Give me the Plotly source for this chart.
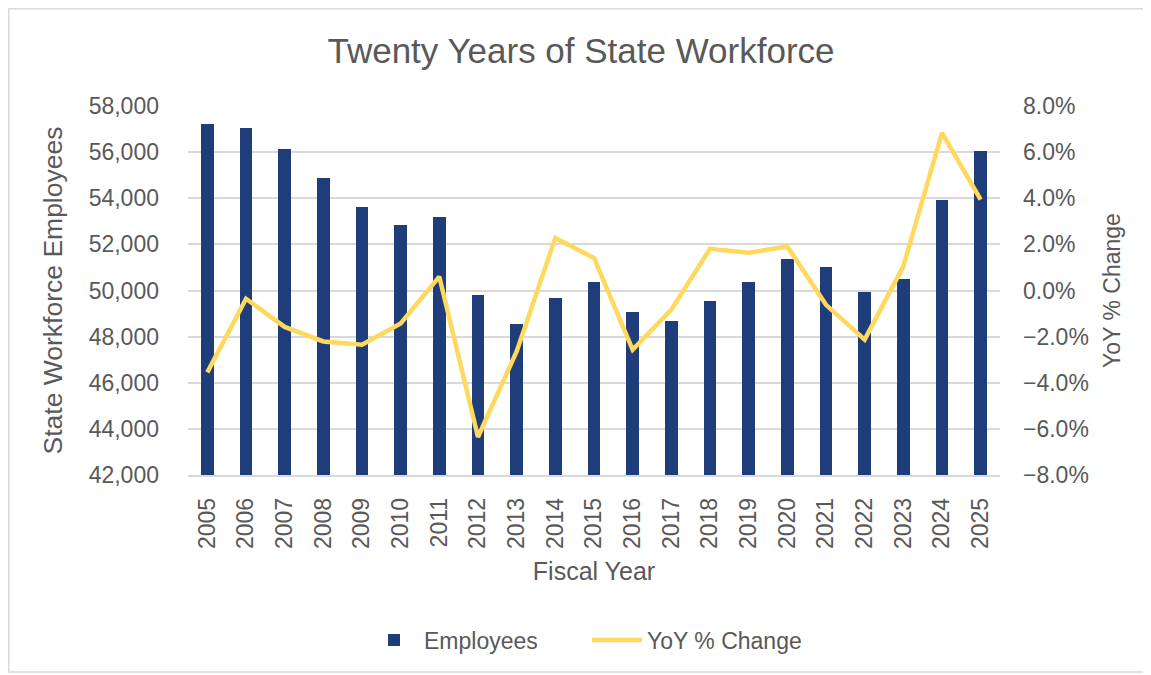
import plotly.graph_objects as go

years = [str(y) for y in range(2005, 2026)]
employees = [57230, 57030, 56120, 54880, 53600, 52850, 53170, 49800, 48530, 49660,
             50350, 49080, 48680, 49540, 50370, 51350, 51020, 49950, 50500, 53940, 56060]
yoy_pct = [-3.55, -0.36, -1.58, -2.21, -2.35, -1.43, 0.60, -6.35, -2.64, 2.28,
           1.41, -2.57, -0.83, 1.81, 1.64, 1.91, -0.62, -2.13, 1.05, 6.83, 3.94]
yoy = [v / 100 for v in yoy_pct]

FONT = "Liberation Sans, Arial, sans-serif"
GRAY = "#595959"
GRID = "#d9d9d9"

W, H = 1135, 667
L, T, PW, PH = 180, 98, 812, 369

fig = go.Figure()
fig.add_trace(go.Bar(x=years, y=employees, name="Employees",
                     marker=dict(color="#1F3D7B", line=dict(width=0)),
                     width=0.32, yaxis="y"))
fig.add_trace(go.Scatter(x=years, y=yoy, name="YoY % Change", mode="lines",
                         line=dict(color="#FFD85E", width=4.5), yaxis="y2"))

fig.update_layout(
    width=W, height=H,
    margin=dict(l=L, r=W - L - PW, t=T, b=H - T - PH, autoexpand=False),
    paper_bgcolor="white", plot_bgcolor="white",
    font=dict(family=FONT, color=GRAY, size=23),
    title=dict(text="Twenty Years of State Workforce", x=(581 - 8) / W, xanchor="center",
               y=1 - 43 / H, yanchor="middle",
               font=dict(size=35, color=GRAY, family=FONT)),
    xaxis=dict(type="category", tickangle=-90, showgrid=False,
               showline=True, linecolor=GRID, linewidth=1.5,
               ticks="", ticklabelstandoff=12,
               tickfont=dict(size=23, color=GRAY),
               title=dict(text="Fiscal Year", font=dict(size=25, color=GRAY), standoff=14)),
    yaxis=dict(range=[42000, 58000], dtick=2000, tickformat=",",
               showgrid=True, gridcolor=GRID, gridwidth=1.5,
               zeroline=False, ticks="", ticklabelstandoff=28,
               tickfont=dict(size=23, color=GRAY),
               title=dict(text="State Workforce Employees", font=dict(size=26.5, color=GRAY),
                          standoff=18)),
    yaxis2=dict(range=[-0.08, 0.08], dtick=0.02, tickformat=".1%",
                overlaying="y", side="right", showgrid=False, zeroline=False,
                ticks="", ticklabelstandoff=22,
                tickfont=dict(size=23, color=GRAY),
                title=dict(text="YoY % Change", font=dict(size=23, color=GRAY), standoff=16)),
    legend=dict(orientation="h", x=(587 - 8 - L) / PW, xanchor="center",
                y=(T + PH - (640 - 8)) / PH, yanchor="middle",
                font=dict(size=23, color=GRAY), itemwidth=50, traceorder="normal",
                entrywidth=158, entrywidthmode="pixels",
                bgcolor="rgba(0,0,0,0)"),
    bargap=0.0,
    showlegend=True,
)

# outer chart border (top, left, bottom sides visible)
x0 = (0.8 - L) / PW
x1 = (W + 40 - L) / PW
y0 = (T + PH - (672 - 8)) / PH
y1 = (T + PH - 0.8) / PH
fig.add_shape(type="path", xref="paper", yref="paper",
              path=f"M {x1} {y1} L {x0} {y1} L {x0} {y0} L {x1} {y0}",
              line=dict(color=GRID, width=1.5), layer="below")

fig.write_html("out.html")
